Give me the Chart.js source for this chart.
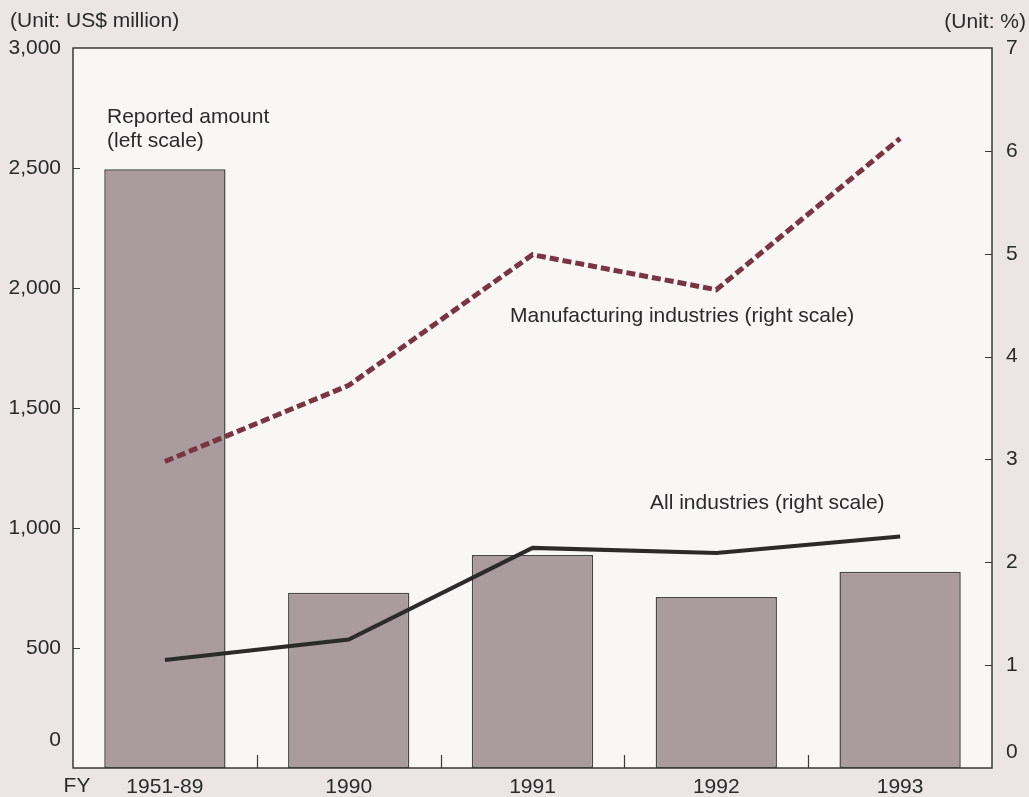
<!DOCTYPE html>
<html>
<head>
<meta charset="utf-8">
<script src="https://cdn.jsdelivr.net/npm/chart.js@4/dist/chart.umd.min.js"></script>
<style>
  html, body { margin: 0; padding: 0; background: #ebe5e5; }
  #wrap { width: 1029px; height: 797px; position: relative; }
</style>
</head>
<body>
<div id="wrap"><canvas id="c" width="1029" height="797"></canvas></div>
<script>
// ---- Data ----
const categories = ['1951-89', '1990', '1991', '1992', '1993'];
const reportedAmount = [2495, 730, 888, 712, 818];          // US$ million (left scale)
const manufacturingShare = [2.98, 3.72, 4.99, 4.65, 6.12];  // % (right scale)
const allIndustriesShare = [1.05, 1.25, 2.14, 2.09, 2.25];  // % (right scale)
const leftTicks = [0, 500, 1000, 1500, 2000, 2500, 3000];
const rightTicks = [0, 1, 2, 3, 4, 5, 6, 7];

const FONT = '"Liberation Sans", Arial, Helvetica, sans-serif';
const TEXT = '#2a2a2a';
const FS = 21;

const decor = {
  id: 'decor',
  beforeDraw(chart) {
    const { ctx, chartArea: a } = chart;
    ctx.save();
    ctx.fillStyle = '#ebe5e5';
    ctx.fillRect(0, 0, chart.width, chart.height);
    ctx.fillStyle = '#f8f7f6';
    ctx.fillRect(a.left, a.top, a.right - a.left, a.bottom - a.top);
    ctx.restore();
  },
  afterDatasetsDraw(chart) {
    const { ctx, chartArea: a, scales } = chart;
    ctx.save();
    // frame
    ctx.strokeStyle = '#3a3a3a';
    ctx.lineWidth = 1.5;
    ctx.strokeRect(a.left, a.top, a.right - a.left, a.bottom - a.top);
    // inward ticks
    ctx.lineWidth = 1.2;
    ctx.beginPath();
    leftTicks.forEach(v => {
      const y = Math.round(scales.y.getPixelForValue(v)) + 0.5;
      if (v > 0 && v < 3000) { ctx.moveTo(a.left, y); ctx.lineTo(a.left + 7, y); }
    });
    rightTicks.forEach(v => {
      const y = Math.round(scales.y2.getPixelForValue(v)) + 0.5;
      if (v > 0 && v < 7) { ctx.moveTo(a.right, y); ctx.lineTo(a.right - 7, y); }
    });
    for (let i = 1; i < categories.length; i++) {
      const x = Math.round((scales.x.getPixelForValue(i - 1) + scales.x.getPixelForValue(i)) / 2) + 0.5;
      ctx.moveTo(x, a.bottom); ctx.lineTo(x, a.bottom - 13);
    }
    ctx.stroke();

    // texts
    ctx.fillStyle = TEXT;
    ctx.font = FS + 'px ' + FONT;
    ctx.textBaseline = 'middle';
    ctx.textAlign = 'left';
    ctx.fillText('(Unit: US$ million)', 10, 21);
    ctx.fillText('Reported amount', 107, 117);
    ctx.fillText('(left scale)', 107, 141);
    ctx.fillText('Manufacturing industries (right scale)', 510, 316);
    ctx.fillText('All industries (right scale)', 650, 503);
    ctx.textAlign = 'right';
    ctx.fillText('(Unit: %)', 1026, 22);
    // zero labels (raised above the axis line)
    ctx.fillText('0', 61, scales.y.getPixelForValue(0) - 28);
    ctx.textAlign = 'left';
    ctx.fillText('0', 1006, scales.y2.getPixelForValue(0) - 16);
    ctx.textAlign = 'center';
    ctx.fillText('FY', 77, 786);
    ctx.restore();
  }
};

new Chart(document.getElementById('c'), {
  data: {
    labels: categories,
    datasets: [
      {
        type: 'line', label: 'Manufacturing industries (right scale)',
        data: manufacturingShare, yAxisID: 'y2',
        borderColor: '#7a3442', borderWidth: 5, borderDash: [9, 4],
        pointRadius: 0, tension: 0, fill: false, order: 1
      },
      {
        type: 'line', label: 'All industries (right scale)',
        data: allIndustriesShare, yAxisID: 'y2',
        borderColor: '#2b2b2b', borderWidth: 4,
        pointRadius: 0, tension: 0, fill: false, order: 1
      },
      {
        type: 'bar', label: 'Reported amount (left scale)',
        data: reportedAmount, yAxisID: 'y',
        backgroundColor: '#a99b9e', borderColor: '#4a4647', borderWidth: 1.5,
        borderSkipped: false,
        categoryPercentage: 1, barPercentage: 0.66, order: 2
      }
    ]
  },
  options: {
    responsive: false,
    animation: false,
    layout: { padding: { top: 48, left: 0, right: 0, bottom: 0 } },
    plugins: { legend: { display: false }, tooltip: { enabled: false } },
    scales: {
      x: {
        type: 'category', position: 'bottom',
        grid: { display: false, drawTicks: false },
        border: { display: false },
        ticks: { color: TEXT, font: { family: FONT, size: FS }, padding: 7, maxRotation: 0 },
        afterFit(s) { s.height = 29; }
      },
      y: {
        type: 'linear', position: 'left', min: 0, max: 3000,
        grid: { display: false, drawTicks: false },
        border: { display: false },
        afterBuildTicks(s) { s.ticks = leftTicks.map(v => ({ value: v })); },
        ticks: {
          color: TEXT, font: { family: FONT, size: FS }, padding: 12,
          callback: v => v === 0 ? '' : v.toLocaleString('en-US')
        },
        afterFit(s) { s.width = 73; }
      },
      y2: {
        type: 'linear', position: 'right', min: 0, max: 7,
        grid: { display: false, drawTicks: false },
        border: { display: false },
        afterBuildTicks(s) { s.ticks = rightTicks.map(v => ({ value: v })); },
        ticks: {
          color: TEXT, font: { family: FONT, size: FS }, padding: 14,
          callback: v => v === 0 ? '' : String(v)
        },
        afterFit(s) { s.width = 37; }
      }
    }
  },
  plugins: [decor]
});
</script>
</body>
</html>
